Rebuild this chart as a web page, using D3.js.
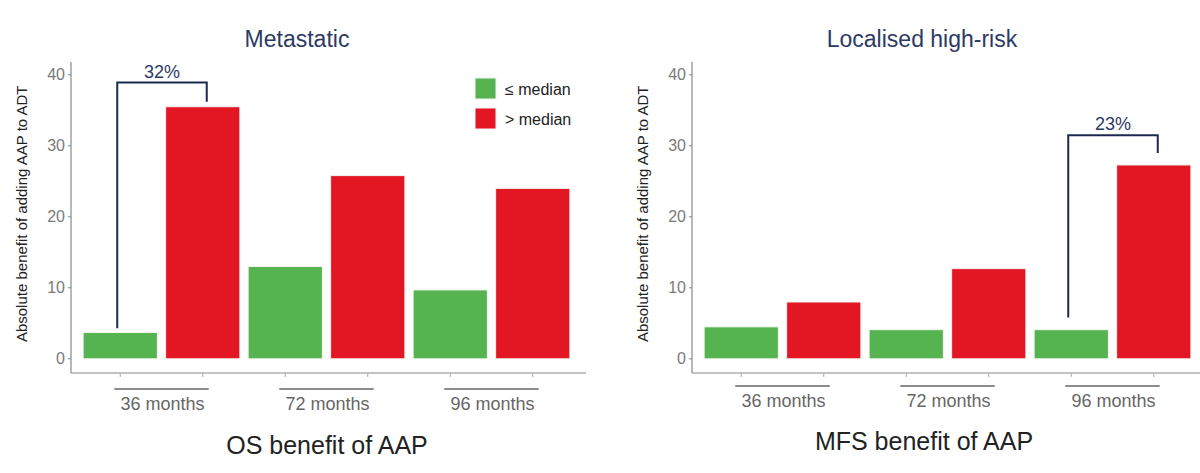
<!DOCTYPE html>
<html>
<head>
<meta charset="utf-8">
<script src="https://cdn.jsdelivr.net/npm/d3@7"></script>
<style>
  body { margin: 0; background: #fff; }
  svg { display: block; font-family: "Liberation Sans", Arial, sans-serif; }
</style>
</head>
<body>
<div id="chart"></div>
<script>
// Absolute benefit of adding AAP to ADT, by follow-up time and median split

const groups = ["36 months", "72 months", "96 months"];
const seriesNames = ["≤ median", "> median"];
const yTicks = [0, 10, 20, 30, 40];

// Metastatic (OS)
const osLow = [3.7, 13.0, 9.7];
const osHigh = [35.5, 25.8, 24.0];
// Localised high-risk (MFS)
const mfsLow = [4.5, 4.1, 4.1];
const mfsHigh = [8.0, 12.7, 27.3];

// bracket annotations: label, group index, left end, right end, top
const osBracket = ["32%", 0, 4.3, 36.2, 38.9];
const mfsBracket = ["23%", 2, 5.8, 29.0, 31.5];

(function() {
    const W = 1200, H = 473;
    const colors = ["#55b44f", "#e31624"];
    const navy = "#2c3a63";

    const svg = d3.select("#chart")
        .append("svg")
        .attr("width", W)
        .attr("height", H);

    // shared y scale (ggplot style expansion)
    const y = d3.scaleLinear().domain([-2, 41.8]).range([373, 62]);

    function drawPanel(opt) {
        const g = svg.append("g").attr("transform", `translate(${opt.dx},0)`);
        const left = 71, right = opt.axisRight;

        // flatten to 6 bars: group x series
        const bars = [];
        groups.forEach((grp, i) => {
            bars.push({key: grp + "|0", grp: i, s: 0, v: opt.low[i]});
            bars.push({key: grp + "|1", grp: i, s: 1, v: opt.high[i]});
        });

        const x = d3.scaleBand()
            .domain(bars.map(d => d.key))
            .range([79, 574])
            .paddingInner(0.1)
            .paddingOuter(0.05);

        // title
        g.append("text")
            .attr("x", opt.titleX)
            .attr("y", 47)
            .attr("text-anchor", "middle")
            .attr("font-size", 23)
            .attr("fill", navy)
            .text(opt.title);

        // axis lines
        g.append("line")
            .attr("x1", left).attr("x2", left)
            .attr("y1", y(41.8)).attr("y2", y(-2))
            .attr("stroke", "#888").attr("stroke-width", 1.2);
        g.append("line")
            .attr("x1", left).attr("x2", right)
            .attr("y1", y(-2)).attr("y2", y(-2))
            .attr("stroke", "#888").attr("stroke-width", 1.2);

        // y ticks
        const yt = g.selectAll(".yt").data(yTicks).enter().append("g")
            .attr("transform", d => `translate(${left},${y(d)})`);
        yt.append("line").attr("x1", -3).attr("x2", 0).attr("stroke", "#888");
        yt.append("text")
            .attr("x", -6)
            .attr("dy", "0.35em")
            .attr("text-anchor", "end")
            .attr("font-size", 16)
            .attr("fill", "#7a7a7a")
            .text(d => d);

        // y label
        g.append("text")
            .attr("transform", "rotate(-90)")
            .attr("x", -y(20) + 3)
            .attr("y", 27)
            .attr("text-anchor", "middle")
            .attr("font-size", 15)
            .attr("fill", "#222")
            .text("Absolute benefit of adding AAP to ADT");

        // bars
        g.selectAll(".bar").data(bars).enter().append("rect")
            .attr("x", d => x(d.key))
            .attr("y", d => y(d.v))
            .attr("width", x.bandwidth())
            .attr("height", d => y(0) - y(d.v))
            .attr("fill", d => colors[d.s])
            .attr("stroke", "#f4f4f4")
            .attr("stroke-width", 1);

        // x ticks at bar centres
        g.selectAll(".xt").data(bars).enter().append("line")
            .attr("x1", d => x(d.key) + x.bandwidth() / 2)
            .attr("x2", d => x(d.key) + x.bandwidth() / 2)
            .attr("y1", y(-2)).attr("y2", y(-2) + 4)
            .attr("stroke", "#aaa");

        // group underlines and labels
        groups.forEach((grp, i) => {
            const c0 = x(grp + "|0") + x.bandwidth() / 2;
            const c1 = x(grp + "|1") + x.bandwidth() / 2;
            g.append("line")
                .attr("x1", c0 - 6).attr("x2", c1 + 6)
                .attr("y1", opt.lineY).attr("y2", opt.lineY)
                .attr("stroke", "#666").attr("stroke-width", 1.5);
            g.append("text")
                .attr("x", (c0 + c1) / 2 + 1)
                .attr("y", opt.lineY + 21)
                .attr("text-anchor", "middle")
                .attr("font-size", 18)
                .attr("fill", "#666")
                .text(grp);
        });

        // x axis title
        g.append("text")
            .attr("x", opt.xTitleX)
            .attr("y", opt.xTitleY)
            .attr("text-anchor", "middle")
            .attr("font-size", 25)
            .attr("fill", "#222")
            .text(opt.xTitle);

        // bracket annotation
        const [lab, gi, vL, vR, vTop] = opt.bracket;
        const bx0 = x(groups[gi] + "|0") + x.bandwidth() / 2 - 3;
        const bx1 = x(groups[gi] + "|1") + x.bandwidth() / 2 + 4;
        g.append("path")
            .attr("d", `M${bx0},${y(vL)}V${y(vTop)}H${bx1}V${y(vR)}`)
            .attr("fill", "none")
            .attr("stroke", "#1c2a50")
            .attr("stroke-width", 2);
        g.append("text")
            .attr("x", (bx0 + bx1) / 2)
            .attr("y", y(vTop) - 5)
            .attr("text-anchor", "middle")
            .attr("font-size", 18)
            .attr("fill", navy)
            .text(lab);

        // legend
        if (opt.legend) {
            const lg = g.selectAll(".lg").data(seriesNames).enter().append("g")
                .attr("transform", (d, i) => `translate(475,${78 + i * 30})`);
            lg.append("rect")
                .attr("width", 21).attr("height", 21)
                .attr("fill", (d, i) => colors[i])
                .attr("stroke", "#f4f4f4");
            lg.append("text")
                .attr("x", 30)
                .attr("y", 11)
                .attr("dy", "0.35em")
                .attr("font-size", 16)
                .attr("fill", "#222")
                .text(d => d);
        }
    }

    drawPanel({
        dx: 0, axisRight: 586, title: "Metastatic", titleX: 297,
        low: osLow, high: osHigh, bracket: osBracket,
        lineY: 389, xTitle: "OS benefit of AAP", xTitleX: 327, xTitleY: 454,
        legend: true
    });
    drawPanel({
        dx: 621, axisRight: 600, title: "Localised high-risk", titleX: 301,
        low: mfsLow, high: mfsHigh, bracket: mfsBracket,
        lineY: 386, xTitle: "MFS benefit of AAP", xTitleX: 303, xTitleY: 450,
        legend: false
    });
})();
</script>
</body>
</html>
